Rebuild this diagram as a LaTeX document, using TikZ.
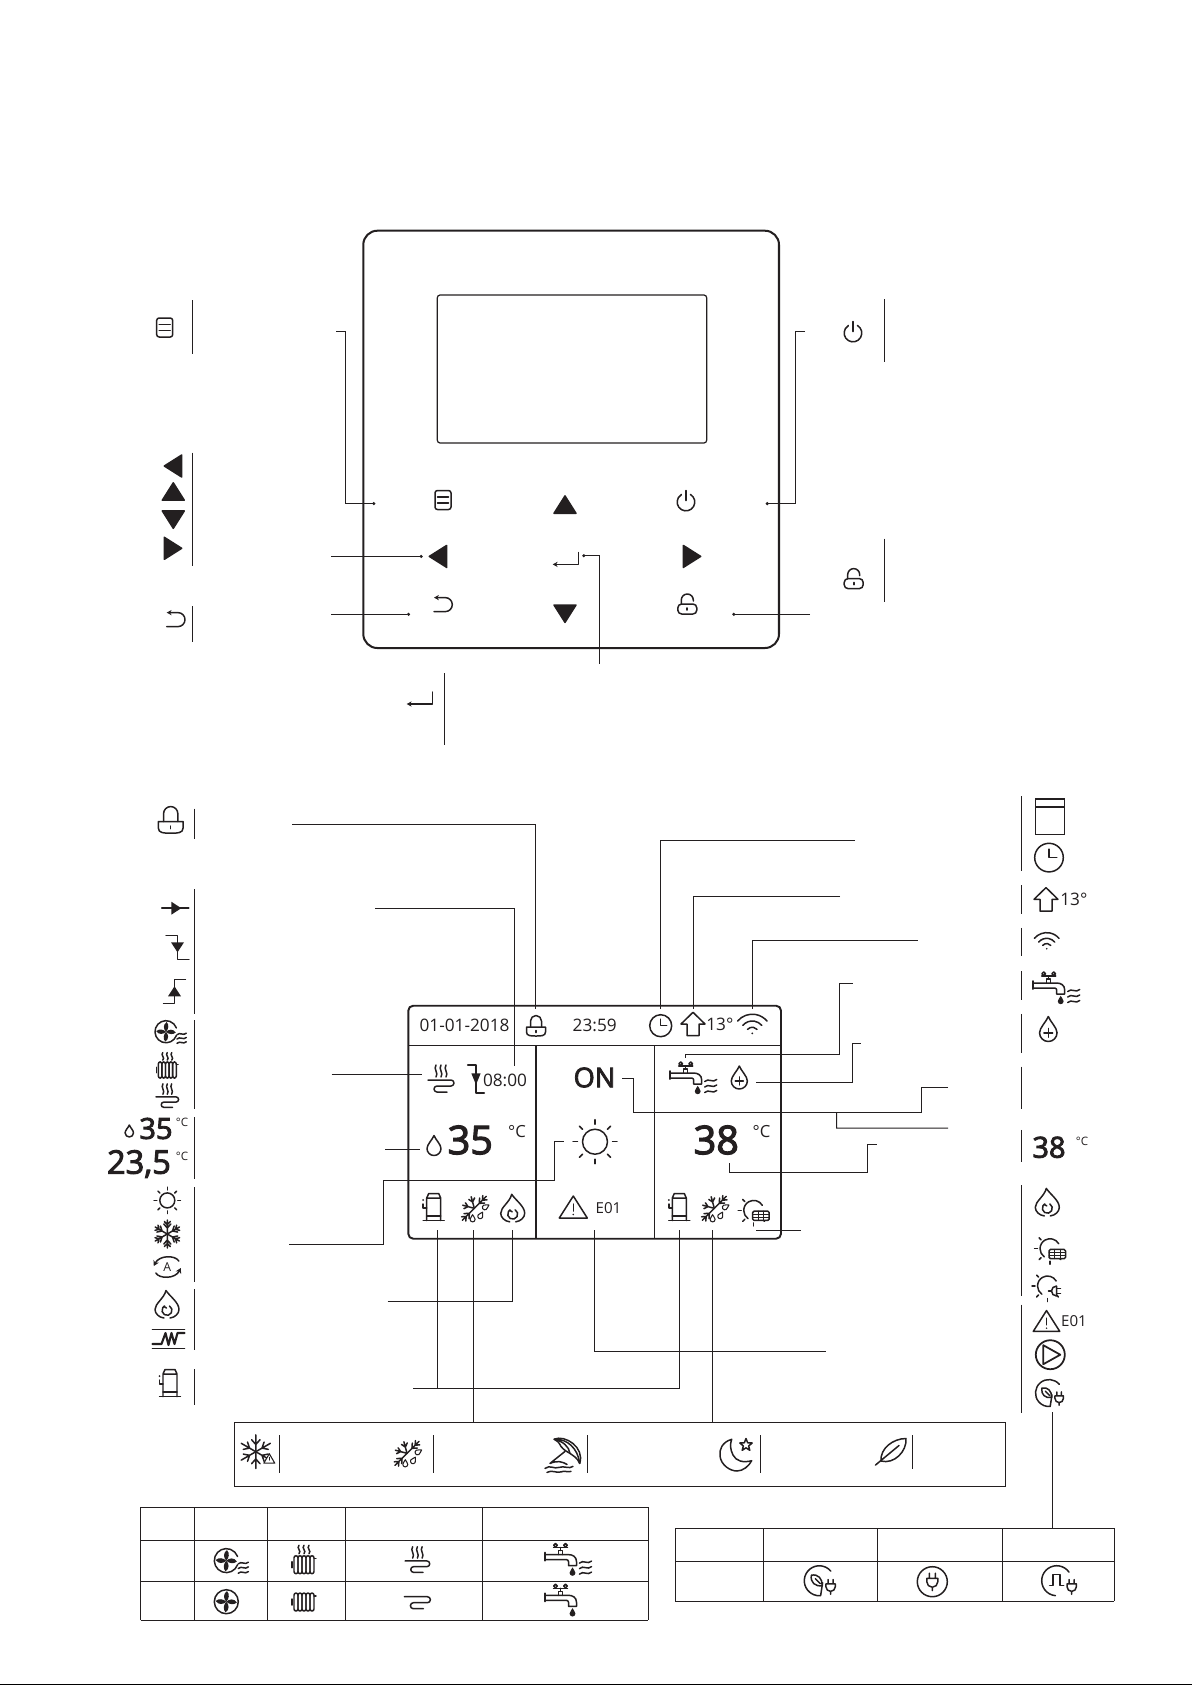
\documentclass[tikz,border=0pt]{standalone}
\usepackage{fontspec}
\setmainfont{Open Sans}
\newfontfamily\semifont[FakeBold=3]{Open Sans}
\usetikzlibrary{arrows.meta}
\definecolor{figK}{RGB}{35,31,32}
% repeated curves
\newcommand{\dropcurve}{(0,-10) .. controls (-1.5,-6) and (-7,-1) .. (-7,3) arc (180:0:7) .. controls (7,-1) and (1.5,-6) .. (0,-10) -- cycle}
\newcommand{\wavelines}{\foreach \y in {-5.5,0,5.5} \draw (-6,\y+1) .. controls (-2,\y-3) and (2,\y+3) .. (6,\y-1);}
\newcommand{\heatlines}{\foreach \x in {-5,0,5} \draw (\x,-12) .. controls (\x-3,-8) and (\x+3,-4) .. (\x,0);}
\newcommand{\coillines}{\draw (-13,1) -- (10,1) arc (-90:90:3) -- (-4,7) arc (270:90:3) -- (6,13);}
\newcommand{\flakearm}[1]{\draw[rotate=#1] (0,0) -- (14,0) (6,0) -- +(4,-3.5) (6,0) -- +(4,3.5) (9.5,0) -- +(3,-3) (9.5,0) -- +(3,3);}
\newcommand{\sunarc}{\begin{scope}[shift={(0,3)}]
  \draw (8.7,-5) arc (-30:-235:10);
  \foreach \a in {135,180,225,270,315} \draw[rotate=\a] (12.5,0) -- (15.5,0);
  \end{scope}}
\newcommand{\plugcurve}{\draw (-3.5,-10) -- (-3.5,-4) (3.5,-10) -- (3.5,-4) (-6.5,-4) -- (6.5,-4) -- (6.5,0) arc (0:180:6.5) -- cycle (0,6.5) -- (0,10.5);}
\newcommand{\fanblades}{\foreach \a in {45,135,225,315} \fill[rotate=\a] (0,0) .. controls (0,-4) and (3,-8) .. (8,-7) .. controls (8,-3) and (4,0) .. (0,0);}
\tikzset{
  bar/.style={line width=.55pt},
  leader/.style={line width=.55pt},
  ldot/.style={leader,-{Circle[length=1.7pt,width=1.7pt]}},
  lcd/.style={font=\fontsize{9.8}{12}\selectfont,inner sep=0pt},
  lcdS/.style={font=\fontsize{8.6}{12}\selectfont,inner sep=0pt},
  digB/.style={font=\semifont\fontsize{22.5}{24}\selectfont,inner sep=0pt},
  digM/.style={font=\semifont\fontsize{16.5}{18}\selectfont,inner sep=0pt},
  degB/.style={font=\fontsize{9.5}{12}\selectfont,inner sep=0pt},
  degS/.style={font=\fontsize{6.6}{8}\selectfont,inner sep=0pt},
  every pic/.style={line width=.85pt,line cap=round,line join=round},
  pics/menuicon/.style={code={
    \draw[rounded corners=1.4pt] (-8,-9.5) rectangle (8,9.5);
    \draw (-5.5,-3) -- (5.5,-3) (-5.5,3) -- (5.5,3);}},
  pics/tria/.style={code={\filldraw (-8.7,0) -- (8.7,-11) -- (8.7,11) -- cycle;}},
  pics/entericon/.style={code={\draw[line width=.65pt,-{Stealth[length=2.8pt,width=3pt]}] (13,-6) -- (13,6) -- (-13,6);}},
  pics/backicon/.style={code={\draw[{Stealth[length=2.8pt,width=3pt]}-] (-9.3,-7) -- (2,-7) arc (-90:90:7) -- (-9.3,7);}},
  pics/powericon/.style={code={\draw (4.5,-7.5) arc (-59:239:8.8); \draw (0,-11.5) -- (0,-1.5);}},
  pics/unlockicon/.style={code={
    \draw[rounded corners=2.2pt] (-9.5,0) rectangle (9.5,10);
    \draw (-6,0) -- (-6,-4) arc (180:360:6) -- (6,-3);
    \draw[line width=1pt] (0,4) -- (0,6);}},
  pics/lockicon/.style={code={
    \draw (-9.5,0) -- (9.5,0) -- (9.5,5) .. controls (9.5,9) and (5,9) .. (0,9) .. controls (-5,9) and (-9.5,9) .. (-9.5,5) -- cycle;
    \draw (-5.5,0) -- (-5.5,-6) arc (180:360:5.5) -- (5.5,0);
    \draw (0,3.5) -- (0,5.5);}},
  pics/dropicon/.style={code={\draw \dropcurve;}},
  pics/dropplus/.style={code={\draw \dropcurve; \draw (0,-.5) -- (0,6.5) (-3.5,3) -- (3.5,3);}},
  pics/flameicon/.style={code={
    \draw (-3,13.5) .. controls (-8,13) and (-12,9) .. (-12,5) .. controls (-12,-1) and (-3,-6) .. (-1,-14) .. controls (3,-8) and (12,-2) .. (12,5) .. controls (12,9) and (8,13) .. (3,13.5);
    \draw (2.5,1.5) arc (-60:240:5); \draw (-3,2) -- (-.5,3.5);}},
  pics/compicon/.style={code={
    \draw (-10.5,13.5) -- (10.5,13.5) (-7,9) -- (7,9);
    \draw (-7,13.5) -- (-7,-9) -- (-5,-13.5) -- (5,-13.5) -- (7,-9) -- (7,13.5) (-7,-9) -- (7,-9);
    \draw (-10.5,-3) -- (-10.5,1) -- (-7,1); \fill (-10.5,-7) circle (1);}},
  pics/frosticon/.style={code={
    \foreach \a in {45,225} \draw[rotate=\a] (0,0) -- (17,0) (7,0) -- +(4,-3.5) (7,0) -- +(4,3.5) (11.5,0) -- +(3.5,-3) (11.5,0) -- +(3.5,3);
    \foreach \a in {105,165} \draw[rotate=\a] (0,0) -- (12,0) (6.5,0) -- +(3.5,-3) (6.5,0) -- +(3.5,3);
    \foreach \x/\y/\a in {11.5/-1.5/-60,6.5/7/-30,-1.7/10/0} \draw[line width=.6pt,shift={(\x,\y)},rotate=\a,scale=.36] \dropcurve;}},
  pics/snowicon/.style={code={\foreach \a in {30,90,150,210,270,330} {\flakearm{\a}}}},
  pics/sunicon/.style={code={
    \draw (0,0) circle (12.5);
    \foreach \a in {0,45,...,315} \draw[rotate=\a] (17.5,0) -- (22,0);}},
  pics/autoicon/.style={code={
    \node[font=\fontsize{7}{8}\selectfont,inner sep=0pt] (autoT) at (0,0) {A};
    \draw[-{Stealth[length=3pt,width=3.4pt]}] (11.5,-6) .. controls (8,-12) and (-8,-12) .. (-13.5,-1);
    \draw[-{Stealth[length=3pt,width=3.4pt]}] (-11.5,6) .. controls (-8,12) and (8,12) .. (13.5,1);}},
  pics/heatericon/.style={code={
    \draw[line width=1pt] (-16,-9.5) -- (16,-9.5) (-16,9.5) -- (16,9.5);
    \draw[line width=1.2pt] (-16,5) -- (-7,5) -- (-3,-6) -- (0,6) -- (3,-6) -- (6,5) -- (9,-6) -- (16,-6);}},
  pics/fanicon/.style={code={\draw (0,0) circle (12); \fanblades}},
  pics/fanwave/.style={code={
    \draw (11.3,4) arc (20:340:12);
    \fanblades
    \begin{scope}[shift={(17,7)},scale=.85] \wavelines \end{scope}}},
  pics/radicon/.style={code={
    \foreach \x in {-10,-6,-2,2,6} \draw[rounded corners=1.2pt] (\x,-9) rectangle (\x+4,9);
    \draw (-12,-3) -- (-12,3) (10,-6) -- (12,-6);}},
  pics/radheat/.style={code={
    \foreach \x in {-10,-6,-2,2,6} \draw[rounded corners=1.2pt] (\x,-9) rectangle (\x+4,9);
    \draw (-12,-3) -- (-12,3) (10,-6) -- (12,-6);
    \begin{scope}[shift={(0,-11)},yscale=.7] \heatlines \end{scope}}},
  pics/coilicon/.style={code={\coillines}},
  pics/flooricon/.style={code={\begin{scope}[shift={(0,-2)}] \heatlines \end{scope} \coillines}},
  pics/tapicon/.style={code={
    \draw[line width=1.1pt] (-15.5,-6) -- (-15.5,2);
    \draw (-15.5,-4) -- (8,-4) .. controls (12,-4) and (16,-2) .. (16,3) -- (16,7) -- (8,7) -- (8,3) .. controls (8,2) and (7,1) .. (6,1) -- (-15.5,1);
    \draw (-2,-4) -- (-2,-8) -- (2,-8) -- (2,-4) (-7,-11) -- (7,-11) (0,-11) -- (0,-8);
    \draw (-5,-13.3) circle (1.8) (5,-13.3) circle (1.8);
    \fill[shift={(12,13)},scale=.42] \dropcurve;}},
  pics/tapwave/.style={code={\begin{scope}[shift={(25,9)}] \wavelines \end{scope}}},
  pics/clockicon/.style={code={\draw (0,0) circle (11); \draw (0,-6.5) -- (0,0) -- (6,0);}},
  pics/houseicon/.style={code={\draw (0,-11.7) -- (12,0) -- (6,0) -- (6,11.7) -- (-6,11.7) -- (-6,0) -- (-12,0) -- cycle;}},
  pics/wifiicon/.style={code={
    \foreach \r in {5.5,11,17} \draw (0,8.5) ++(220:\r) arc (220:320:\r);
    \fill (0,8.5) circle (.9);}},
  pics/warnicon/.style={code={
    \draw (0,-11) -- (14,11) -- (-14,11) -- cycle;
    \draw (0,-3) -- (0,4); \fill (0,7.5) circle (.9);}},
  pics/pumpicon/.style={code={\draw[line width=1pt] (0,0) circle (14.5); \draw[line width=1pt] (-7,-9.5) -- (10,0) -- (-7,9.5) -- cycle;}},
  pics/solaricon/.style={code={
    \sunarc
    \filldraw[fill=white,rounded corners=.8pt] (-1,3.7) rectangle (15.5,13);
    \draw[line width=.55pt] (-1,6.8) -- (15.5,6.8) (-1,9.9) -- (15.5,9.9) (4.5,3.7) -- (4.5,13) (10,3.7) -- (10,13);}},
  pics/sunplugicon/.style={code={
    \sunarc
    \filldraw[fill=white] (9,3) -- (9,13) arc (90:270:5) -- cycle;
    \draw (1,8) -- (4,8) (9,5.5) -- (13,5.5) (9,10.5) -- (13,10.5);}},
  pics/plugcircle/.style={code={\draw (0,0) circle (15); \begin{scope}[scale=.85] \plugcurve \end{scope}}},
  pics/leafplug/.style={code={
    \draw (11.5,-9.6) arc (-40:-275:15) -- (3.3,2);
    \draw (-8,-5.5) .. controls (-1,-7) and (3,-2) .. (3,5) .. controls (-4,6) and (-9,2) .. (-8,-5.5);
    \draw (-4,-2) -- (1,3);
    \begin{scope}[shift={(11.3,6)},scale=.72] \plugcurve \end{scope}}},
  pics/pulseplug/.style={code={
    \draw (12.3,-8.6) arc (-35:-265:15);
    \draw (-7,5) -- (-3.5,5) -- (-3.5,-6) -- (3.5,-6) -- (3.5,5) -- (7,5);
    \begin{scope}[shift={(15,6)},scale=.72] \plugcurve \end{scope}}},
  pics/snowwarn/.style={code={
    \foreach \a in {30,90,150,210,270,330} \draw[scale=1.2,rotate=\a] (0,0) -- (14,0) (6,0) -- +(4,-3.5) (6,0) -- +(4,3.5);
    \filldraw[fill=white,line width=.6pt] (13.5,2) -- (19,11.5) -- (8,11.5) -- cycle;
    \draw[line width=.5pt] (13.5,5.5) -- (13.5,8.5);}},
  pics/umbrellaicon/.style={code={
    \draw (-8.8,-15.2) .. controls (2,-20) and (22,-7) .. (16.7,9) .. controls (14,3) and (11,2) .. (7,-1) .. controls (4,-3) and (1,-4) .. (-2,-8) .. controls (-4,-12) and (-6,-14) .. (-8.8,-15.2) -- cycle;
    \draw (-8.8,-15.2) .. controls (0,-13) and (6,-8) .. (7,-1) (-8.8,-15.2) .. controls (4,-16) and (15,-6) .. (16.7,9);
    \draw (2,-3) -- (-13,9) (-13,9) .. controls (-6,6) and (-1,7) .. (4,10);
    \draw (-18,14) .. controls (-13,10) and (-9,15) .. (-4,13) .. controls (1,11) and (6,15) .. (10,12);
    \draw (-16,18) .. controls (-11,15) and (-7,19) .. (-2,17.5) .. controls (1,16) and (5,18) .. (8,17);}},
  pics/moonicon/.style={code={
    \draw (-4.3,-15.7) .. controls (-14,-13) and (-17,-5) .. (-16,1) .. controls (-15,10) and (-6,16) .. (1,16) .. controls (7,16) and (13,11) .. (15.7,5.7) .. controls (7,8) and (0,6) .. (-3,0) .. controls (-6,-6) and (-6,-11) .. (-4.3,-15.7) -- cycle;
    \draw[shift={(10,-10)}] (0,-6.5) -- (1.65,-2.27) -- (6.2,-2) -- (2.66,.87) -- (3.8,5.3) -- (0,2.8) -- (-3.8,5.3) -- (-2.66,.87) -- (-6.2,-2) -- (-1.65,-2.27) -- cycle;}},
  pics/leaficon/.style={code={
    \draw (-10,9.5) .. controls (-11,-3) and (2,-13) .. (15,-13) .. controls (16,0) and (3,13) .. (-10,9.5) -- cycle;
    \draw (-15.5,13.5) -- (8,-6);}},
  pics/flowicon/.style={code={\draw (-13.5,0) -- (13.5,0); \fill (-4,-6.5) -- (6,0) -- (-4,6.5) -- cycle;}},
  pics/stepdown/.style={code={\draw (-11.5,-12) -- (0,-12) -- (0,12) -- (11.5,12); \fill (-6.5,-5) -- (6.5,-5) -- (0,5) -- cycle;}},
  pics/stepup/.style={code={\draw (11,-12) -- (0,-12) -- (0,12) -- (-11,12); \fill (-6.5,5) -- (6.5,5) -- (0,-5) -- cycle;}}
}
\begin{document}
\begin{tikzpicture}[x=0.02cm,y=-0.02cm,color=figK]
\useasboundingbox (0,0) rectangle (1192,1685);
\fill[black] (0,1683.6) rectangle (1192,1685);
% controller front
\draw[line width=1.15pt,rounded corners=8pt] (363.3,230.7) rectangle (779,648);
\draw[line width=.7pt,rounded corners=1.6pt] (437.3,295) rectangle (706.7,443);
\pic at (443,500) {menuicon};
\pic[rotate=270] at (565,504.6) {tria};
\pic at (686,502) {powericon};
\pic at (438,556.4) {tria};
\pic at (565.7,558.4) {entericon};
\pic[rotate=180] at (692,556.4) {tria};
\pic at (443.3,604.6) {backicon};
\pic[rotate=90] at (565,613.7) {tria};
\pic at (687.3,604) {unlockicon};
% key explanations
\foreach \x/\a/\b in {192.3/300/353.6, 192.3/452.5/565.7, 192.3/606/641.8, 444.3/673/744.6, 884.3/299/361.8, 884.3/538.6/601.8}
  \draw[bar] (\x,\a) -- (\x,\b);
\pic at (164.7,327.5) {menuicon};
\pic at (173,466) {tria};
\pic[rotate=270] at (173.3,491.5) {tria};
\pic[rotate=90] at (173.3,519.6) {tria};
\pic[rotate=180] at (173,548.3) {tria};
\pic at (176,619.6) {backicon};
\pic at (419.7,698) {entericon};
\pic at (853,333) {powericon};
\pic at (853.7,578.6) {unlockicon};
% key leaders
\coordinate (menuL) at (336,331.4); \coordinate (menuK) at (375.3,503.6);
\coordinate (leftL) at (331,556.4); \coordinate (leftK) at (422.7,556.4);
\coordinate (backL) at (331,614.3); \coordinate (backK) at (410,614.3);
\coordinate (okL) at (599.3,663.6); \coordinate (okK) at (582.3,555.7);
\coordinate (powerL) at (805,331.4); \coordinate (powerK) at (765.7,503.6);
\coordinate (unlockL) at (810,614.3); \coordinate (unlockK) at (732.3,614.3);
\draw[ldot] (menuL) -- ++(9.7,0) |- (menuK);
\draw[ldot] (leftL) -- (leftK);
\draw[ldot] (backL) -- (backK);
\draw[ldot] (okL) |- (okK);
\draw[ldot] (powerL) -- ++(-9.7,0) |- (powerK);
\draw[ldot] (unlockL) -- (unlockK);
% home screen
\draw[line width=1.1pt,rounded corners=2.8pt] (408.3,1005.7) rectangle (781,1238.7);
\draw[line width=.6pt] (408.3,1045.7) -- (781,1045.7);
\draw[line width=1.1pt] (536,1045.7) -- (536,1238.7);
\draw[line width=.6pt] (654.3,1045.7) -- (654.3,1238.7);
\draw[line width=.6pt] (408.3,1180.7) -- (536,1180.7);
\node[lcd] (dateT) at (464.5,1025.7) {01-01-2018};
\pic at (536,1027) {lockicon};
\node[lcd] (timeT) at (594.7,1025.7) {23:59};
\pic at (660.7,1025.7) {clockicon};
\pic at (693,1024) {houseicon};
\node[lcd,anchor=west] (roomT) at (706,1024) {13°};
\pic[scale=1.13] at (752.3,1023.8) {wifiicon};
\pic at (441,1079) {flooricon};
\pic[xscale=.72,yscale=1.15] at (476,1079) {stepdown};
\node[lcd] (timerT) at (505,1080) {08:00};
\pic at (434,1145.5) {dropicon};
\node[digB] (waterT) at (470.3,1140) {35};
\node[degB] (waterU) at (517,1132) {°C};
\pic at (433.7,1207) {compicon};
\pic at (474.3,1208.3) {frosticon};
\pic at (512.7,1208.3) {flameicon};
\node[font=\semifont\fontsize{15.5}{18}\selectfont,inner sep=0pt] (onT) at (594.5,1077.5) {ON};
\pic[line width=1.4pt] at (595,1141.7) {sunicon};
\pic at (573.3,1207) {warnicon};
\node[lcdS] (errT) at (608.5,1207.7) {E01};
\pic at (685.7,1077) {tapicon};
\pic at (685.7,1077) {tapwave};
\pic[scale=1.15] at (739.3,1077.5) {dropplus};
\node[digB] (tankT) at (716.3,1140) {38};
\node[degB] (tankU) at (761.5,1132) {°C};
\pic at (679.3,1207) {compicon};
\pic at (714.3,1208.3) {frosticon};
\pic at (753.7,1207.4) {solaricon};
% screen leaders
\coordinate (lockL) at (292,824); \coordinate (lockS) at (535,1009);
\coordinate (timerL) at (375,908); \coordinate (timerS) at (514,1066);
\coordinate (floorL) at (331.7,1074); \coordinate (floorS) at (422.3,1074);
\coordinate (dropL) at (385,1149); \coordinate (dropS) at (420,1149);
\coordinate (sunL) at (289,1244); \coordinate (sunS) at (564,1141.7);
\coordinate (flameL) at (387.7,1301); \coordinate (flameS) at (512.3,1230);
\coordinate (compL) at (413,1388); \coordinate (compS) at (437.3,1230);
\coordinate (compR) at (679.3,1230);
\coordinate (frostS) at (473.3,1230); \coordinate (frostR) at (712.7,1230);
\coordinate (errL) at (825.6,1351); \coordinate (errS) at (594.3,1230);
\coordinate (clockL) at (855,840); \coordinate (clockS) at (660.7,1009);
\coordinate (houseL) at (840,896); \coordinate (houseS) at (693.3,1009);
\coordinate (wifiL) at (917.7,940.4); \coordinate (wifiS) at (752,1009);
\coordinate (tapL) at (852.7,983); \coordinate (tapS) at (685.7,1058.3);
\coordinate (addL) at (860.7,1043); \coordinate (addS) at (755.7,1082);
\coordinate (onL) at (948,1087); \coordinate (onS) at (622.3,1078.3);
\coordinate (on2L) at (948,1128);
\coordinate (tankL) at (876.7,1144); \coordinate (tankS) at (729.3,1162.7);
\coordinate (solarL) at (800.7,1230); \coordinate (solarS) at (755.7,1230);
\draw[leader] (lockL) -| (lockS);
\draw[leader] (timerL) -| (timerS);
\draw[leader] (floorL) -- (floorS);
\draw[leader] (dropL) -- (dropS);
\draw[leader] (sunL) -- (383.3,1244) |- (554.3,1180.7) |- (sunS);
\draw[leader] (flameL) -| (flameS);
\draw[leader] (compL) -| (compR);
\draw[leader] (compL) -| (compS);
\draw[leader] (errL) -| (errS);
\draw[leader] (clockL) -| (clockS);
\draw[leader] (houseL) -| (houseS);
\draw[leader] (wifiL) -| (wifiS);
\draw[leader] (tapL) -- ++(-13.4,0) |- (685.7,1054.7) -- (tapS);
\draw[leader] (addL) -- ++(-8.4,0) |- (addS);
\draw[leader] (onL) -- ++(-26.7,0) |- (633.3,1112.3) |- (onS);
\draw[leader] (on2L) -- ++(-111.3,0) -- (836.7,1112.3);
\draw[leader] (tankL) -- ++(-9.4,0) |- (729.3,1172.7) -- (tankS);
\draw[leader] (solarL) -- (solarS);
% left icon column
\foreach \a/\b in {808.6/839.2, 889/1013.5, 1020/1108.6, 1117/1178.8, 1187/1282, 1289.4/1350, 1369/1404.5}
  \draw[bar] (194.3,\a) -- (194.3,\b);
\pic[scale=1.3] at (170.7,821.5) {lockicon};
\pic at (175.3,908.2) {flowicon};
\pic at (177.5,947.3) {stepdown};
\pic at (174.5,991.3) {stepup};
\pic[scale=.92] at (166,1031.8) {fanwave};
\pic[scale=.9] at (167.3,1070) {radheat};
\pic[scale=.87] at (167.3,1096) {flooricon};
\pic[scale=.6] at (129.3,1131) {dropicon};
\node[digM] (waterA) at (156,1128.5) {35};
\node[degS] (waterAU) at (182,1122) {°C};
\node[font=\semifont\fontsize{18.5}{20}\selectfont,inner sep=0pt] (roomA) at (139,1164) {23,5};
\node[degS] (roomAU) at (182,1156) {°C};
\pic[scale=.6] at (167.3,1200.4) {sunicon};
\pic at (167.3,1234) {snowicon};
\pic at (167.3,1267) {autoicon};
\pic at (167,1304.5) {flameicon};
\pic at (168.5,1339) {heatericon};
\pic at (170,1383) {compicon};
% right icon column
\foreach \a/\b in {796.3/870.6, 885/913.5, 927.8/956.3, 971/1000.4, 1013.9/1052.6, 1066.5/1108.6, 1129.8/1161.6, 1185.3/1295.5, 1304.5/1412.6}
  \draw[bar] (1021.3,\a) -- (1021.3,\b);
\draw[line width=.6pt] (1035.3,799) rectangle (1064.7,834.3) (1035.3,807) -- (1064.7,807);
\pic[scale=1.3] at (1049,857.6) {clockicon};
\pic at (1046,899.3) {houseicon};
\node[lcd,anchor=west] (roomB) at (1060,899) {13°};
\pic[scale=.95] at (1046.7,940.7) {wifiicon};
\pic at (1048.7,987) {tapicon};
\pic at (1048.7,987) {tapwave};
\pic[scale=1.25] at (1048.3,1029) {dropplus};
\node[digM] (tankB) at (1049,1147.3) {38};
\node[degS] (tankBU) at (1082,1141) {°C};
\pic at (1047.3,1202.4) {flameicon};
\pic[line width=.65pt] at (1050,1245.7) {solaricon};
\pic[line width=.65pt] at (1047.5,1283) {sunplugicon};
\pic[scale=.95] at (1046.5,1321) {warnicon};
\node[lcdS] (errB) at (1074,1320.8) {E01};
\pic at (1050.3,1354.7) {pumpicon};
\pic[scale=.9] at (1049,1393) {leafplug};
\coordinate (modeL) at (1052.3,1412.3);
% defrost modes box
\draw[line width=.7pt] (234.5,1422.3) rectangle (1005.7,1486.5);
\coordinate (frostB) at (473.3,1422.3); \coordinate (frostC) at (712.7,1422.3);
\draw[leader] (frostS) -- (frostB);
\draw[leader] (frostR) -- (frostC);
\foreach \x/\a/\b in {279.4/1435/1472.7, 433.2/1435/1472.7, 587.4/1435/1472.7, 760.3/1435/1472.7, 912.3/1435/1468.7}
  \draw[bar] (\x,\a) -- (\x,\b);
\pic at (255.8,1451.7) {snowwarn};
\pic at (407,1453.3) {frosticon};
\pic at (563,1454.4) {umbrellaicon};
\pic[line width=.55pt] at (736,1455) {moonicon};
\pic[line width=.5pt] at (891,1451.5) {leaficon};
% left table
\foreach \y in {1507.3,1540.3,1581.7,1620.3} \draw[line width=.7pt] (140.5,\y) -- (648.2,\y);
\foreach \x in {140.5,194.2,267.3,345.3,482.3,648.2} \draw[line width=.7pt] (\x,1507.3) -- (\x,1620.3);
\pic at (226.3,1560.7) {fanwave};
\pic at (304,1564.7) {radheat};
\pic[scale=.95] at (417.4,1560) {flooricon};
\pic at (560.5,1558.6) {tapicon};
\pic at (560.5,1558.6) {tapwave};
\pic at (226.3,1601.7) {fanicon};
\pic at (304,1602) {radicon};
\pic at (417.4,1595.7) {coilicon};
\pic at (560.5,1599.3) {tapicon};
% right table
\foreach \y in {1528.3,1561.3,1601.3} \draw[line width=.7pt] (675.3,\y) -- (1114.3,\y);
\foreach \x in {675.3,763.3,877.3,1002.3,1114.3} \draw[line width=.7pt] (\x,1528.3) -- (\x,1601.3);
\coordinate (modeT) at (1052.3,1528.3);
\draw[leader] (modeL) -- (modeT);
\pic at (819.3,1580.7) {leafplug};
\pic[line width=.9pt] at (932.3,1581.7) {plugcircle};
\pic at (1056.7,1580.7) {pulseplug};
\end{tikzpicture}
\end{document}
